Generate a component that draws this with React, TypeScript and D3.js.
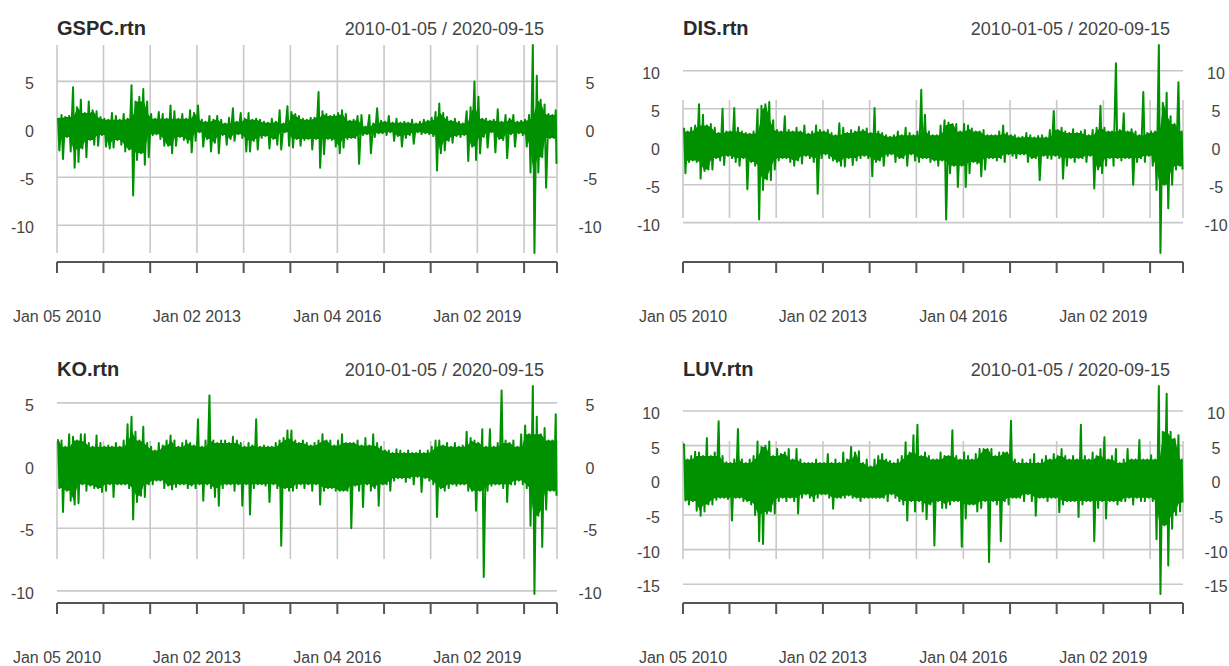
import { useRef, useEffect } from "react";
import * as d3 from "d3";

// daily log returns (%), summarised per calendar month as the highest and lowest
// value, Jan 2010 .. Sep 2020
const gspcHi = [
  1.2, 1.5, 1.3, 1.4, 4.4, 2.3, 3.1, 1.7, 2.9, 2.0, 1.9, 1.3,
  1.1, 1.0, 1.7, 1.4, 1.0, 1.6, 1.1, 4.6, 2.9, 3.4, 4.2, 2.9,
  1.6, 1.1, 1.8, 1.6, 1.1, 2.5, 1.9, 1.1, 1.6, 1.1, 2.0, 1.7,
  2.5, 1.0, 0.8, 1.4, 1.0, 1.4, 1.0, 0.6, 1.2, 2.2, 0.8, 1.7,
  1.1, 1.7, 1.0, 1.1, 1.0, 0.8, 0.7, 1.1, 0.8, 2.0, 0.6, 2.4,
  1.8, 1.6, 1.4, 1.1, 1.0, 1.2, 1.2, 3.9, 1.9, 1.6, 1.4, 1.5,
  1.7, 2.0, 1.6, 0.9, 1.0, 1.4, 1.5, 0.3, 1.5, 0.6, 2.2, 0.9,
  0.8, 1.4, 0.7, 1.1, 0.7, 0.8, 0.7, 1.0, 0.6, 0.8, 1.0, 0.9,
  1.2, 1.8, 2.7, 1.7, 1.3, 0.9, 1.1, 0.8, 0.6, 1.9, 2.3, 5.0,
  3.4, 1.1, 1.1, 0.9, 1.0, 2.1, 0.8, 1.5, 1.1, 1.5, 0.8, 0.9,
  1.0, 1.5, 8.8, 5.6, 3.1, 2.6, 1.6, 1.5, 2.0,
];
const gspcLo = [
  -2.2, -3.1, -0.8, -2.3, -4.0, -3.4, -2.0, -2.9, -1.1, -1.6, -1.7, -0.6,
  -1.8, -2.0, -1.9, -1.1, -1.6, -2.3, -2.1, -6.9, -3.2, -2.5, -3.7, -2.9,
  -0.6, -0.5, -1.0, -1.7, -1.7, -2.5, -1.7, -0.8, -1.1, -1.4, -2.4, -1.2,
  -0.3, -1.8, -1.0, -2.3, -1.4, -2.5, -0.6, -1.6, -1.0, -1.2, -0.5, -0.9,
  -2.3, -2.3, -1.2, -2.1, -0.9, -0.7, -2.0, -1.0, -1.6, -2.1, -0.3, -1.7,
  -1.9, -1.0, -1.7, -1.1, -1.0, -2.1, -1.0, -4.0, -2.6, -1.0, -1.1, -1.8,
  -2.5, -1.9, -1.0, -0.9, -0.9, -3.6, -0.6, -0.5, -2.5, -0.8, -0.4, -0.4,
  -0.6, -0.3, -1.2, -0.7, -1.8, -0.9, -0.6, -1.5, -0.3, -0.5, -0.4, -0.5,
  -0.7, -4.3, -2.5, -2.2, -1.2, -1.4, -0.7, -0.8, -0.6, -3.3, -1.8, -3.2,
  -2.5, -0.8, -1.9, -0.3, -2.4, -1.0, -1.1, -3.0, -0.5, -1.8, -0.4, -0.6,
  -1.8, -4.5, -12.9, -4.5, -2.9, -6.1, -0.9, -0.9, -3.6,
];

const disHi = [
  2.5, 2.0, 2.5, 2.8, 5.6, 4.2, 2.8, 3.0, 2.5, 1.8, 5.0, 2.0,
  2.0, 5.1, 2.5, 2.0, 1.8, 1.7, 2.0, 4.9, 5.4, 5.6, 5.9, 3.5,
  2.2, 2.0, 4.0, 2.2, 2.0, 2.5, 2.0, 2.8, 1.7, 2.0, 2.8, 2.2,
  2.0, 2.2, 1.8, 1.5, 3.1, 2.5, 1.8, 2.2, 2.0, 2.6, 2.2, 2.4,
  1.8, 5.1, 2.0, 1.8, 1.5, 1.3, 1.5, 2.0, 1.5, 2.5, 1.8, 1.5,
  2.0, 7.5, 4.2, 2.0, 1.5, 1.5, 2.8, 3.5, 3.2, 3.0, 3.0, 2.0,
  3.0, 2.8, 2.4, 2.0, 2.0, 2.2, 1.5, 1.5, 1.5, 2.0, 2.8, 1.8,
  1.5, 1.5, 1.2, 1.3, 1.8, 1.5, 1.2, 1.4, 1.5, 1.2, 2.2, 4.7,
  2.2, 2.5, 2.0, 1.8, 2.3, 1.8, 2.0, 2.2, 1.5, 2.2, 2.5, 5.4,
  2.5, 2.0, 2.0, 11.0, 2.2, 4.4, 2.0, 2.3, 2.0, 1.5, 7.2, 1.8,
  2.0, 2.0, 13.4, 5.8, 7.1, 4.0, 3.0, 8.5, 2.0,
];
const disLo = [
  -3.5, -2.0, -1.8, -2.0, -4.2, -3.2, -3.0, -3.0, -1.5, -1.8, -2.4, -1.2,
  -1.5, -2.0, -2.5, -1.5, -5.6, -2.0, -2.5, -9.6, -5.7, -4.3, -4.4, -3.0,
  -1.8, -1.5, -1.5, -2.0, -2.5, -1.8, -2.2, -1.2, -1.5, -2.0, -6.2, -1.5,
  -1.0, -1.5, -1.8, -2.0, -2.5, -2.6, -1.5, -2.4, -1.8, -1.5, -1.2, -1.5,
  -3.9, -2.0, -1.8, -2.5, -1.2, -1.0, -2.0, -1.5, -1.5, -2.5, -1.0, -1.8,
  -2.0, -1.5, -1.5, -2.0, -1.8, -2.5, -1.8, -9.6, -3.5, -2.5, -5.3, -2.5,
  -5.3, -3.5, -2.0, -2.2, -3.9, -3.0, -1.5, -1.5, -1.8, -1.5, -2.0, -1.0,
  -1.2, -1.5, -1.0, -1.0, -2.0, -1.5, -1.5, -4.4, -1.2, -1.5, -1.6, -1.2,
  -1.5, -4.2, -2.5, -1.5, -2.0, -1.5, -1.5, -2.0, -1.2, -5.5, -3.0, -3.5,
  -2.5, -1.5, -2.5, -1.5, -1.8, -1.5, -1.5, -5.0, -2.0, -1.5, -2.0, -1.2,
  -2.5, -5.7, -14.0, -5.0, -8.1, -5.0, -3.0, -2.5, -3.0,
];

const koHi = [
  2.1, 2.0, 1.5, 2.5, 2.3, 2.0, 2.5, 2.5, 1.8, 1.5, 2.4, 1.8,
  1.5, 1.6, 1.5, 1.8, 1.5, 2.0, 3.3, 3.9, 2.7, 2.0, 3.1, 1.8,
  1.5, 1.2, 1.8, 1.6, 2.0, 2.4, 2.0, 1.5, 1.8, 2.0, 1.8, 1.6,
  3.7, 1.5, 2.0, 5.6, 2.0, 1.8, 2.0, 2.0, 1.8, 2.3, 2.0, 1.8,
  1.5, 1.8, 1.6, 3.7, 1.5, 1.6, 1.5, 1.5, 1.8, 2.0, 2.2, 2.8,
  2.8, 2.0, 1.8, 2.0, 1.8, 1.6, 1.8, 2.0, 2.5, 2.0, 2.0, 1.6,
  2.0, 2.5, 1.8, 1.8, 1.8, 2.0, 1.6, 2.2, 1.6, 2.5, 1.8, 1.5,
  1.2, 1.2, 1.0, 1.3, 1.2, 1.0, 1.2, 1.0, 1.0, 1.2, 1.0, 1.2,
  1.5, 2.0, 2.0, 1.6, 1.8, 1.5, 1.8, 1.5, 1.6, 2.7, 2.2, 2.0,
  1.8, 2.9, 1.5, 2.9, 1.5, 1.8, 6.0, 2.0, 1.8, 2.0, 1.5, 2.5,
  3.2, 2.5, 6.35, 3.9, 2.5, 3.0, 2.0, 2.0, 4.1,
];
const koLo = [
  -1.8, -3.7, -2.0, -2.8, -3.1, -3.0, -1.5, -2.0, -1.6, -1.8, -1.8, -2.1,
  -2.0, -1.5, -2.5, -1.5, -1.5, -1.5, -1.8, -4.3, -2.9, -2.4, -2.5, -1.5,
  -1.5, -1.2, -1.2, -1.8, -1.6, -1.9, -1.7, -1.5, -1.5, -1.8, -1.6, -1.8,
  -1.5, -2.8, -1.5, -1.8, -2.5, -3.2, -1.8, -1.5, -1.5, -2.0, -1.5, -3.2,
  -1.5, -3.9, -1.8, -1.5, -1.5, -1.6, -2.9, -1.5, -1.8, -6.4, -1.8, -2.0,
  -2.0, -1.8, -1.5, -1.8, -1.5, -2.0, -1.5, -3.1, -2.0, -1.8, -1.8, -2.0,
  -2.0, -2.0, -2.0, -5.0, -1.6, -2.0, -3.3, -1.5, -2.0, -1.8, -3.2, -1.5,
  -1.5, -2.0, -1.2, -1.0, -1.0, -1.3, -1.0, -1.5, -0.9, -2.1, -1.0, -1.2,
  -1.5, -4.1, -1.8, -2.0, -1.8, -1.5, -1.6, -1.5, -1.5, -2.0, -2.0, -3.6,
  -2.0, -8.9, -2.0, -1.6, -1.5, -1.5, -1.8, -2.9, -1.5, -1.5, -1.2, -1.5,
  -1.8, -4.8, -10.25, -4.0, -6.5, -3.5, -2.0, -2.0, -2.4,
];

const luvHi = [
  5.3, 3.0, 3.5, 4.1, 4.0, 3.5, 6.1, 3.5, 4.0, 8.5, 3.5, 2.6,
  2.5, 3.0, 7.4, 3.0, 2.5, 3.0, 3.5, 5.6, 4.8, 5.0, 5.6, 3.5,
  4.5, 3.8, 4.0, 4.5, 3.0, 4.5, 3.0, 2.5, 2.5, 2.5, 3.0, 2.5,
  2.5, 3.8, 2.5, 3.0, 2.5, 4.0, 3.0, 4.8, 4.0, 4.2, 2.5, 3.0,
  2.0, 3.0, 3.5, 3.8, 3.0, 2.8, 2.5, 3.0, 3.5, 5.5, 4.0, 6.5,
  8.0, 3.5, 4.0, 3.5, 3.0, 3.0, 4.0, 3.5, 3.5, 7.2, 3.5, 3.0,
  4.0, 3.5, 3.0, 3.8, 4.5, 4.5, 4.5, 4.5, 3.5, 4.0, 4.0, 4.0,
  8.6, 3.0, 2.5, 3.0, 2.5, 3.0, 3.8, 2.5, 3.0, 3.5, 3.0, 3.8,
  3.5, 4.5, 3.5, 3.0, 3.5, 3.0, 8.0, 3.5, 3.0, 4.0, 3.5, 4.5,
  6.2, 3.0, 3.5, 4.5, 2.5, 3.0, 4.5, 3.0, 3.0, 5.8, 3.0, 3.0,
  3.6, 3.0, 13.6, 7.0, 12.5, 7.0, 6.0, 6.5, 3.0,
];
const luvLo = [
  -2.9, -3.5, -3.0, -4.4, -5.1, -4.5, -3.5, -3.5, -2.8, -2.5, -2.5, -2.7,
  -5.8, -2.5, -2.5, -3.0, -3.0, -3.5, -5.0, -8.8, -9.2, -4.8, -4.5, -4.8,
  -3.0, -2.5, -3.0, -2.5, -3.0, -4.8, -2.5, -2.0, -2.5, -3.0, -2.5, -2.0,
  -2.0, -2.5, -4.1, -2.5, -2.5, -2.5, -2.2, -2.5, -2.5, -3.0, -2.5, -2.5,
  -2.5, -2.5, -2.5, -2.5, -3.0, -2.0, -2.5, -3.0, -3.5, -5.8, -3.0, -4.5,
  -3.0, -4.5, -5.6, -3.5, -9.4, -3.0, -4.0, -4.0, -3.5, -3.0, -3.0, -9.6,
  -5.5, -3.5, -3.5, -4.5, -4.0, -3.0, -11.8, -3.0, -3.5, -8.8, -3.0, -3.5,
  -2.5, -2.5, -2.5, -3.0, -2.0, -3.0, -5.1, -2.5, -2.5, -3.0, -2.5, -2.5,
  -4.6, -3.5, -3.0, -3.0, -3.0, -5.3, -3.5, -3.0, -3.0, -8.8, -4.0, -3.0,
  -5.5, -3.0, -3.0, -3.5, -3.0, -3.0, -2.5, -3.5, -2.5, -3.0, -3.0, -2.5,
  -3.0, -8.5, -16.4, -6.5, -12.3, -7.0, -5.0, -4.5, -3.2,
];

const START = "2010-01-05";
const END = "2020-09-15";
const RANGE_LABEL = "2010-01-05 / 2020-09-15";

// first trading day of each year plus the last observation
const yearTicks = [
  "2010-01-05", "2011-01-03", "2012-01-03", "2013-01-02", "2014-01-02", "2015-01-02",
  "2016-01-04", "2017-01-03", "2018-01-02", "2019-01-02", "2020-01-02", "2020-09-15",
];
const tickLabels = ["Jan 05 2010", "", "", "Jan 02 2013", "", "", "Jan 04 2016", "", "", "Jan 02 2019", "", ""];

const panels = [
  { title: "GSPC.rtn", hi: gspcHi, lo: gspcLo, col: 0, row: 0, fullGrid: true },
  { title: "DIS.rtn", hi: disHi, lo: disLo, col: 1, row: 0, fullGrid: false },
  { title: "KO.rtn", hi: koHi, lo: koLo, col: 0, row: 1, fullGrid: false },
  { title: "LUV.rtn", hi: luvHi, lo: luvLo, col: 1, row: 1, fullGrid: false },
];

const W = 1229;
const H = 666;
const FONT = "'Liberation Sans', Arial, sans-serif";
const GREEN = "#009100";

const App = () => {
  const svgRef = useRef<SVGSVGElement>(null);

  useEffect(() => {
    const svg = d3.select(svgRef.current);
    svg.selectAll("*").remove();

    const parse = d3.timeParse("%Y-%m-%d");
    const start = parse(START)!;
    const end = parse(END)!;
    const months = d3.timeMonth.range(new Date(2010, 0, 1), new Date(2020, 9, 1));

    const colX = [0, 626];
    const rowY = [0, 341];
    const plot = { left: 57, right: 557, top: 45, bottom: 253 };
    const vGrid = { top: 100, bottom: 218 };
    const axisY = 262;

    panels.forEach((p) => {
      const g = svg
        .append("g")
        .attr("transform", `translate(${colX[p.col]},${rowY[p.row]})`);

      const x = d3.scaleTime().domain([start, end]).range([plot.left, plot.right]);
      const y = d3
        .scaleLinear()
        .domain([d3.min(p.lo)!, d3.max(p.hi)!])
        .range([plot.bottom, plot.top]);

      const bins = months.map((m, i) => {
        const a = Math.max(+m, +start);
        const b = Math.min(+d3.timeMonth.offset(m, 1), +end);
        return { a, b, hi: p.hi[i], lo: p.lo[i] };
      });

      // two points per month: the high, then the low
      const pts = bins.flatMap((d) => [
        { t: new Date(d.a + (d.b - d.a) * 0.3), v: d.hi },
        { t: new Date(d.a + (d.b - d.a) * 0.7), v: d.lo },
      ]);

      // solid core: the range every neighbouring month also reaches
      const core = bins.map((d, i) => {
        const near = bins.slice(Math.max(0, i - 1), i + 2);
        return {
          t: new Date((d.a + d.b) / 2),
          top: d3.min(near, (n) => n.hi)!,
          bot: d3.max(near, (n) => n.lo)!,
        };
      });

      const yTicks = y.ticks(5);
      const xTicks = yearTicks.map((d) => parse(d)!);

      // horizontal grid
      g.selectAll(".grid-y")
        .data(yTicks)
        .enter()
        .append("line")
        .attr("x1", plot.left)
        .attr("x2", plot.right)
        .attr("y1", (d) => y(d))
        .attr("y2", (d) => y(d))
        .style("stroke", "#c8c8c8")
        .style("stroke-width", 1.6);

      // vertical grid
      g.selectAll(".grid-x")
        .data(xTicks)
        .enter()
        .append("line")
        .attr("x1", (d) => x(d))
        .attr("x2", (d) => x(d))
        .attr("y1", p.fullGrid ? plot.top : vGrid.top)
        .attr("y2", p.fullGrid ? plot.bottom : vGrid.bottom)
        .style("stroke", "#c8c8c8")
        .style("stroke-width", 1.6);

      // series
      const area = d3
        .area<{ t: Date; top: number; bot: number }>()
        .x((d) => x(d.t))
        .y0((d) => y(d.bot))
        .y1((d) => y(d.top));

      g.append("path").datum(core).attr("d", area).attr("fill", GREEN);

      const line = d3
        .line<{ t: Date; v: number }>()
        .x((d) => x(d.t))
        .y((d) => y(d.v));

      g.append("path")
        .datum(pts)
        .attr("d", line)
        .attr("fill", "none")
        .attr("stroke", GREEN)
        .attr("stroke-width", 2)
        .attr("stroke-linejoin", "round");

      // x axis
      g.append("line")
        .attr("x1", plot.left)
        .attr("x2", plot.right)
        .attr("y1", axisY)
        .attr("y2", axisY)
        .style("stroke", "#555")
        .style("stroke-width", 2);

      g.selectAll(".tick")
        .data(xTicks)
        .enter()
        .append("line")
        .attr("x1", (d) => x(d))
        .attr("x2", (d) => x(d))
        .attr("y1", axisY)
        .attr("y2", axisY + 11)
        .style("stroke", "#555")
        .style("stroke-width", 2);

      g.selectAll(".xlab")
        .data(xTicks)
        .enter()
        .append("text")
        .attr("x", (d) => x(d))
        .attr("y", 322)
        .attr("text-anchor", "middle")
        .style("font-family", FONT)
        .style("font-size", "16px")
        .style("fill", "#444")
        .text((_, i) => tickLabels[i]);

      // y labels, both sides
      g.selectAll(".ylab-l")
        .data(yTicks)
        .enter()
        .append("text")
        .attr("x", plot.left - 23)
        .attr("y", (d) => y(d) + 8)
        .attr("text-anchor", "end")
        .style("font-family", FONT)
        .style("font-size", "16px")
        .style("fill", "#444")
        .text((d) => d);

      g.selectAll(".ylab-r")
        .data(yTicks)
        .enter()
        .append("text")
        .attr("x", plot.right + 33)
        .attr("y", (d) => y(d) + 8)
        .attr("text-anchor", "middle")
        .style("font-family", FONT)
        .style("font-size", "16px")
        .style("fill", "#444")
        .text((d) => d);

      // titles
      g.append("text")
        .attr("x", plot.left)
        .attr("y", 35)
        .style("font-family", FONT)
        .style("font-size", "20px")
        .style("font-weight", "bold")
        .style("fill", "#2a2a2a")
        .text(p.title);

      g.append("text")
        .attr("x", plot.right - 13)
        .attr("y", 35)
        .attr("text-anchor", "end")
        .style("font-family", FONT)
        .style("font-size", "18px")
        .style("fill", "#444")
        .text(RANGE_LABEL);
    });
  }, []);

  return (
    <div style={{ position: "absolute", left: 0, top: 0 }}>
      <svg ref={svgRef} width={W} height={H} style={{ display: "block", background: "#fff" }}></svg>
    </div>
  );
};

export default App;
